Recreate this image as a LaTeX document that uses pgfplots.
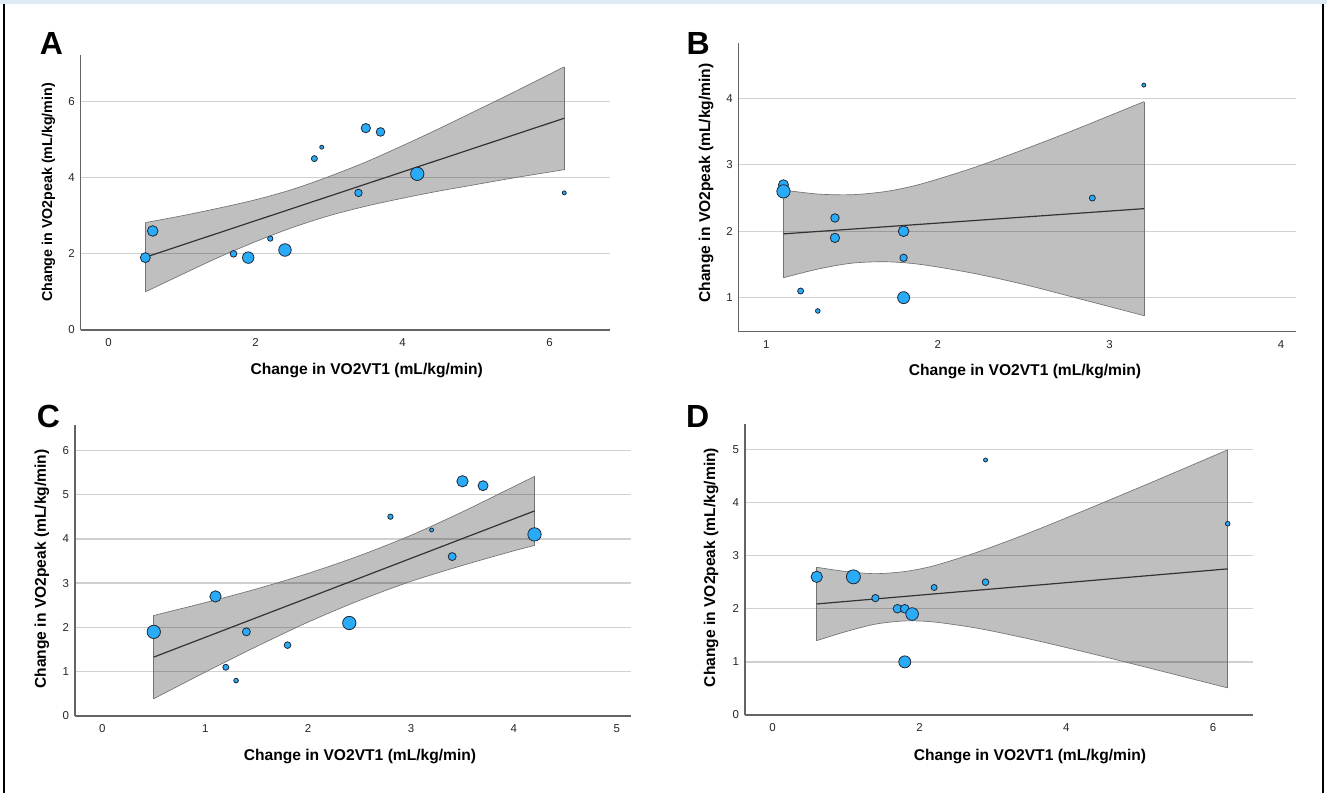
\documentclass[border=0pt]{standalone}
\usepackage{fontspec}
\setmainfont{Liberation Sans}
\usepackage{pgfplots}
\usepackage{pgfplotstable}
\pgfplotsset{compat=1.18}
\usepgfplotslibrary{fillbetween}

\definecolor{bubble}{RGB}{41,171,247}
\definecolor{bubbleedge}{RGB}{30,40,55}
\definecolor{gridgray}{RGB}{208,208,208}
\definecolor{axisgray}{RGB}{100,100,100}
\definecolor{topblue}{RGB}{221,235,247}

% points: x, y, marker radius (pt)
\pgfplotstableread{
x y r
0.5 1.9 3.75
0.6 2.6 4.0
1.7 2.0 2.5
1.9 1.9 4.3
2.2 2.4 2.0
2.4 2.1 4.7
2.8 4.5 2.25
2.9 4.8 1.5
3.4 3.6 2.8
3.5 5.3 3.5
3.7 5.2 3.25
4.2 4.1 5.0
6.2 3.6 1.5
}\ptsA
\pgfplotstableread{
x y r
1.1 2.7 3.75
1.1 2.6 5.0
1.4 2.2 3.2
1.4 1.9 3.5
1.8 2.0 4.0
1.8 1.6 2.8
1.8 1.0 4.5
1.2 1.1 2.25
1.3 0.8 1.75
2.9 2.5 2.25
3.2 4.2 1.5
}\ptsB
\pgfplotstableread{
x y r
0.5 1.9 5.0
1.1 2.7 4.25
1.2 1.1 2.25
1.3 0.8 1.75
1.4 1.9 3.0
1.8 1.6 2.5
2.4 2.1 5.0
2.8 4.5 2.0
3.2 4.2 1.5
3.4 3.6 3.0
3.5 5.3 4.25
3.7 5.2 3.75
4.2 4.1 5.0
}\ptsC
\pgfplotstableread{
x y r
0.6 2.6 4.25
1.1 2.6 5.25
1.4 2.2 2.75
1.7 2.0 3.25
1.8 2.0 3.25
1.9 1.9 4.75
1.8 1.0 4.5
2.2 2.4 2.25
2.9 2.5 2.5
2.9 4.8 1.5
6.2 3.6 1.75
}\ptsD

% confidence bands
\pgfplotstableread{
x up lo
0.5 2.82 1.00
1.0 3.00 1.46
1.5 3.20 1.91
2.0 3.42 2.32
2.5 3.69 2.69
3.0 4.03 3.00
3.5 4.41 3.25
4.0 4.84 3.46
4.5 5.29 3.65
5.0 5.76 3.82
5.5 6.23 3.99
6.2 6.91 4.21
}\bandA
\pgfplotstableread{
x up lo
1.1 2.62 1.30
1.3 2.56 1.43
1.5 2.55 1.52
1.7 2.60 1.54
1.9 2.71 1.50
2.2 2.95 1.37
2.5 3.23 1.20
2.8 3.53 1.00
3.2 3.95 0.73
}\bandB
\pgfplotstableread{
x up lo
0.5 2.27 0.39
1.0 2.56 0.99
1.5 2.87 1.57
2.0 3.22 2.12
2.5 3.62 2.61
3.0 4.08 3.04
3.5 4.61 3.40
4.0 5.18 3.73
4.2 5.41 3.85
}\bandC
\pgfplotstableread{
x up lo
0.6 2.78 1.40
1.0 2.70 1.57
1.4 2.66 1.71
1.8 2.70 1.77
2.2 2.81 1.75
2.8 3.07 1.63
3.5 3.43 1.43
4.3 3.88 1.17
5.2 4.40 0.86
6.2 4.99 0.51
}\bandD

\pgfplotsset{
  panel/.style={
    scale only axis, anchor=south west,
    axis lines*=left,
    axis line style={draw=axisgray, line width=1pt},
    ymajorgrids, major grid style={draw=gridgray, line width=1pt},
    major tick length=0pt, tick style={draw=none},
    ticklabel style={font=\fontsize{8.6}{10}\selectfont, text=black!85},
    xticklabel style={yshift=-3pt},
    yticklabel style={xshift=-1pt},
    /pgf/number format/assume math mode=true,
    clip=false,
  },
  band/.style={draw=black!55, line width=0.5pt, smooth},
  bandfill/.style={fill=black, fill opacity=0.25, draw=none},
  regline/.style={draw=black!80, line width=0.9pt},
  bubbles/.style={scatter, only marks, mark=*,
    scatter/use mapped color={draw=bubbleedge, fill=bubble},
    visualization depends on={\thisrow{r} \as \rad},
    scatter/@pre marker code/.append style={/tikz/mark size=\rad},
    mark options={line width=0.6pt}},
}
\tikzset{
  lab/.style={font=\fontsize{11.7}{14}\selectfont\bfseries},
  letter/.style={font=\fontsize{24}{28}\selectfont\bfseries},
}

\begin{document}
\begin{tikzpicture}
\path (0,0) rectangle (995.25pt,594.75pt);
\fill[topblue] (0,591.75pt) rectangle (995.25pt,594.75pt);
\draw[black, line width=1.5pt] (3pt,0) -- (3pt,591.75pt);
\draw[black, line width=1.5pt] (992.6pt,0) -- (992.6pt,591.75pt);

% A
\begin{axis}[panel, at={(60.6pt,347.25pt)}, width=397.1pt, height=206.25pt,
  xmin=-0.378, xmax=6.826, ymin=0, ymax=7.22, xtick={0,2,4,6}, ytick={0,2,4,6}]
\addplot[band, name path=upA] table[x=x,y=up]{\bandA};
\addplot[band, name path=loA] table[x=x,y=lo]{\bandA};
\addplot[bandfill] fill between[of=upA and loA];
\addplot[band] coordinates {(0.5,1.00) (0.5,2.82)};
\addplot[band] coordinates {(6.2,4.21) (6.2,6.91)};
\addplot[regline] coordinates {(0.5,1.91) (6.2,5.56)};
\addplot[bubbles] table[x=x,y=y]{\ptsA};
\end{axis}

% B
\begin{axis}[panel, at={(554.0pt,346.0pt)}, width=417.9pt, height=216.3pt,
  xmin=0.839, xmax=4.086, ymin=0.488, ymax=4.83, xtick={1,2,3,4}, ytick={1,2,3,4}]
\addplot[band, name path=upB] table[x=x,y=up]{\bandB};
\addplot[band, name path=loB] table[x=x,y=lo]{\bandB};
\addplot[bandfill] fill between[of=upB and loB];
\addplot[band] coordinates {(1.1,1.30) (1.1,2.62)};
\addplot[band] coordinates {(3.2,0.73) (3.2,3.95)};
\addplot[regline] coordinates {(1.1,1.96) (3.2,2.34)};
\addplot[bubbles] table[x=x,y=y]{\ptsB};
\end{axis}

% C
\begin{axis}[panel, at={(56.2pt,57.75pt)}, width=417.3pt, height=218.25pt,
  xmin=-0.266, xmax=5.141, ymin=0, ymax=6.57, xtick={0,1,2,3,4,5}, ytick={0,1,2,3,4,5,6}]
\addplot[band, name path=upC] table[x=x,y=up]{\bandC};
\addplot[band, name path=loC] table[x=x,y=lo]{\bandC};
\addplot[bandfill] fill between[of=upC and loC];
\addplot[band] coordinates {(0.5,0.39) (0.5,2.27)};
\addplot[band] coordinates {(4.2,3.85) (4.2,5.41)};
\addplot[regline] coordinates {(0.5,1.33) (4.2,4.63)};
\addplot[bubbles] table[x=x,y=y]{\ptsC};
\end{axis}

% D
\begin{axis}[panel, at={(558.8pt,58.5pt)}, width=381.2pt, height=218.0pt,
  xmin=-0.376, xmax=6.549, ymin=0, ymax=5.47, xtick={0,2,4,6}, ytick={0,1,2,3,4,5}]
\addplot[band, name path=upD] table[x=x,y=up]{\bandD};
\addplot[band, name path=loD] table[x=x,y=lo]{\bandD};
\addplot[bandfill] fill between[of=upD and loD];
\addplot[band] coordinates {(0.6,1.40) (0.6,2.78)};
\addplot[band] coordinates {(6.2,0.51) (6.2,4.99)};
\addplot[regline] coordinates {(0.6,2.09) (6.2,2.75)};
\addplot[bubbles] table[x=x,y=y]{\ptsD};
\end{axis}

% titles and panel letters
\node[letter] at (38.6pt,562.1pt) {A};
\node[letter] at (523.7pt,562.1pt) {B};
\node[letter] at (36.4pt,282.2pt) {C};
\node[letter] at (523.2pt,282.2pt) {D};

\node[lab] at (275.0pt,317.25pt) {Change in VO2VT1 (mL/kg/min)};
\node[lab] at (768.75pt,315.95pt) {Change in VO2VT1 (mL/kg/min)};
\node[lab] at (270.0pt,27.2pt) {Change in VO2VT1 (mL/kg/min)};
\node[lab] at (772.5pt,27.2pt) {Change in VO2VT1 (mL/kg/min)};

\node[lab, font=\fontsize{10.7}{13}\selectfont\bfseries, rotate=90] at (36.3pt,450.4pt) {Change in VO2peak (mL/kg/min)};
\node[lab, rotate=90] at (529.5pt,457.5pt) {Change in VO2peak (mL/kg/min)};
\node[lab, rotate=90] at (31.5pt,168.0pt) {Change in VO2peak (mL/kg/min)};
\node[lab, rotate=90] at (533.25pt,169.1pt) {Change in VO2peak (mL/kg/min)};
\end{tikzpicture}
\end{document}
